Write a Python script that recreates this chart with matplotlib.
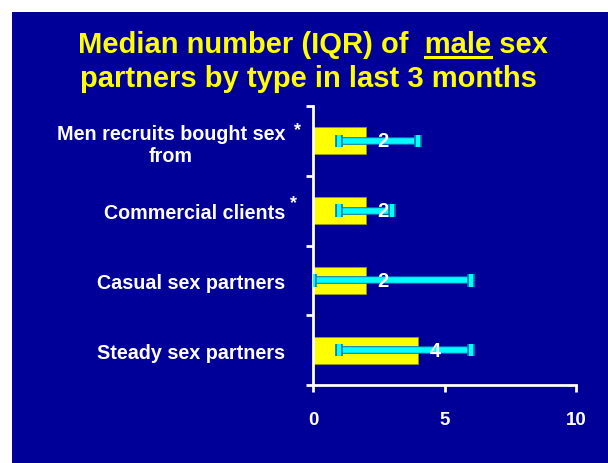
import numpy as np
import matplotlib
matplotlib.use("Agg")
import matplotlib.pyplot as plt
from matplotlib.patches import Rectangle
from matplotlib.lines import Line2D
import matplotlib.patheffects as pe

# DATA (bottom to top)
categories = ["Steady sex partners", "Casual sex partners",
              "Commercial clients", "Men recruits bought sex\nfrom"]
starred = [False, False, True, True]
median = [4, 2, 2, 2]
q1 = [1, 0, 1, 1]
q3 = [6, 6, 3, 4]

BLUE = "#000099"
YELLOW = "#FFFF00"
CYAN = "#00FFFF"

plt.rcParams['font.family'] = ['Liberation Sans', 'DejaVu Sans']
plt.rcParams['font.weight'] = 'bold'

fig = plt.figure(figsize=(6.08, 4.64), dpi=100)
fig.patch.set_facecolor("white")
W, H = 608, 464
fig.patches.append(Rectangle((12 / W, 0), 1 - 12 / W, 1 - 13 / H,
                             transform=fig.transFigure, facecolor=BLUE,
                             edgecolor="none", zorder=-5))

ax = fig.add_axes([313 / W, 1 - 386 / H, (576 - 313) / W, (386 - 107) / H])
ax.set_facecolor("none")
ax.set_zorder(2)

y = np.arange(len(categories))
ax.barh(y, median, height=0.39, color=YELLOW, edgecolor="#9a9a00",
        linewidth=0.6, zorder=2)

lo = np.array(median) - np.array(q1)
hi = np.array(q3) - np.array(median)
eb = ax.errorbar(median, y, xerr=[lo, hi], fmt="none", ecolor=CYAN,
                 elinewidth=4, capsize=4.5, capthick=3, zorder=3)
for art in list(eb.lines[1]) + list(eb.lines[2]):
    art.set_path_effects([pe.Stroke(linewidth=5.5, foreground="#0077bb"),
                          pe.Normal()])

for yi, m in zip(y, median):
    ax.annotate(str(m), (m, yi), xytext=(17, 0), textcoords="offset pixels",
                ha="center", va="center", color="white", fontsize=14.5,
                fontweight="bold", zorder=4)

ax.set_xlim(0, 10)
ax.set_ylim(-0.5, len(categories) - 0.5)
ax.set_xticks([0, 5, 10])
ax.set_yticks(y)
ax.set_yticklabels(categories, multialignment="center")
ax.set_yticks(np.arange(-0.5, len(categories)), minor=True)
ax.tick_params(axis="y", which="major", length=0, pad=20, labelsize=14.2,
               labelcolor="white")
ax.tick_params(axis="y", which="minor", length=5, width=2, color="white")
ax.tick_params(axis="x", length=5, width=2, color="white", pad=14,
               labelsize=13.5, labelcolor="white")
for s in ["top", "right"]:
    ax.spines[s].set_visible(False)
for s in ["left", "bottom"]:
    ax.spines[s].set_color("white")
    ax.spines[s].set_linewidth(2)

# asterisks
ast_off = {2: (-20, 8), 3: (-15, 11)}
for yi, st in zip(y, starred):
    if st:
        ax.annotate("*", (0, yi), xytext=ast_off[yi], textcoords="offset pixels",
                    ha="center", va="center", color="white", fontsize=13,
                    fontweight="bold", annotation_clip=False)

# title with underlined "male"
line1 = "Median number (IQR) of  male sex"
line2 = "partners by type in last 3 months"
tkw = dict(color=YELLOW, fontsize=21, fontweight="bold", ha="center",
           va="baseline")
t1 = fig.text(313 / W, 1 - 53 / H, line1, **tkw)
fig.text(308 / W, 1 - 87 / H, line2, **tkw)

fig.canvas.draw()
r = fig.canvas.get_renderer()
bb = t1.get_window_extent(r)
tmp = fig.text(0, 0, "Median number (IQR) of  male", color="none",
               fontsize=21, fontweight="bold")
w_pre = tmp.get_window_extent(r).width
tmp.set_text("male")
w_male = tmp.get_window_extent(r).width
tmp.remove()
x_end = bb.x0 + w_pre
x_start = x_end - w_male
yl = H - 58
fig.add_artist(Line2D([x_start / W, x_end / W], [yl / H, yl / H],
                      transform=fig.transFigure, color=YELLOW, linewidth=2.2))

fig.savefig("out.png", dpi=100, facecolor=fig.get_facecolor())
